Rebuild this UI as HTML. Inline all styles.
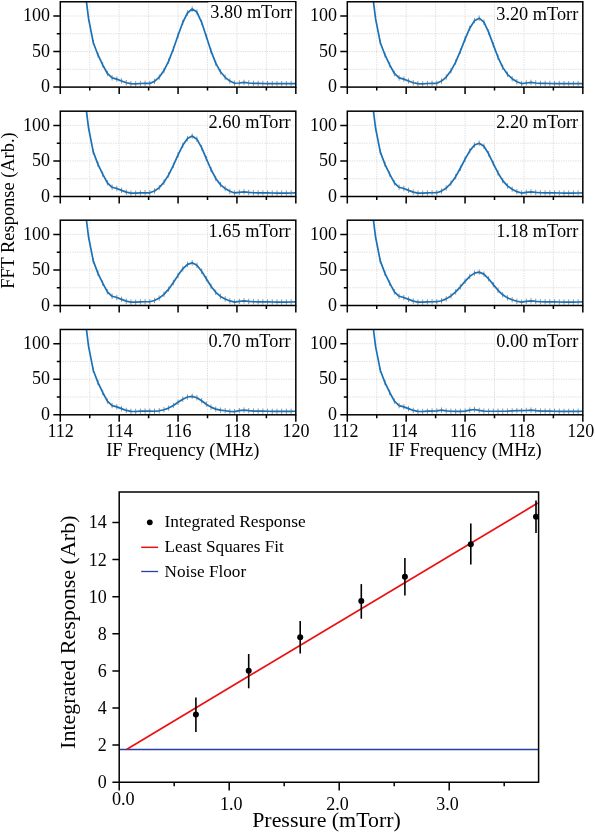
<!DOCTYPE html>
<html><head><meta charset="utf-8"><style>
html,body{margin:0;padding:0;background:#fff;}
body{width:595px;height:832px;overflow:hidden;font-family:"Liberation Serif", serif;}
</style></head><body>
<svg width="595" height="832" viewBox="0 0 595 832" style="display:block;will-change:transform">
<rect width="595" height="832" fill="#fff"/>
<defs>
<clipPath id="cp00"><rect x="60.30" y="1.78" width="235.52" height="85.32"/></clipPath>
<clipPath id="cp01"><rect x="347.30" y="1.78" width="235.52" height="85.32"/></clipPath>
<clipPath id="cp10"><rect x="60.30" y="111.18" width="235.52" height="85.32"/></clipPath>
<clipPath id="cp11"><rect x="347.30" y="111.18" width="235.52" height="85.32"/></clipPath>
<clipPath id="cp20"><rect x="60.30" y="220.18" width="235.52" height="85.32"/></clipPath>
<clipPath id="cp21"><rect x="347.30" y="220.18" width="235.52" height="85.32"/></clipPath>
<clipPath id="cp30"><rect x="60.30" y="329.48" width="235.52" height="85.32"/></clipPath>
<clipPath id="cp31"><rect x="347.30" y="329.48" width="235.52" height="85.32"/></clipPath>
</defs>
<path d="M89.74 1.78V87.10 M119.18 1.78V87.10 M148.62 1.78V87.10 M178.06 1.78V87.10 M207.50 1.78V87.10 M236.94 1.78V87.10 M266.38 1.78V87.10 M60.30 69.32H295.82 M60.30 51.55H295.82 M60.30 33.77H295.82 M60.30 16.00H295.82" stroke="#d2d2d2" stroke-width="0.8" stroke-dasharray="1.2 1.2" fill="none"/>
<g clip-path="url(#cp00)">
<path d="M88.56 15.93V21.33 M93.27 39.78V45.18 M97.98 52.23V57.63 M102.69 62.09V67.49 M107.40 70.78V76.18 M112.11 75.17V80.57 M116.82 76.45V81.85 M121.54 78.24V83.64 M126.25 80.05V85.45 M130.96 81.00V86.40 M135.67 81.09V86.49 M140.38 80.82V86.22 M145.09 80.64V86.04 M149.80 80.72V86.12 M154.51 78.68V84.08 M159.22 74.52V79.92 M163.93 67.89V73.29 M168.64 58.47V63.87 M173.35 46.26V51.66 M178.06 32.63V38.03 M182.77 19.80V25.20 M187.48 10.28V15.68 M192.19 6.24V11.64 M196.90 9.36V14.76 M201.61 19.64V25.04 M206.32 33.89V39.29 M211.03 48.38V53.78 M215.74 60.48V65.88 M220.45 69.09V74.49 M225.16 74.59V79.99 M229.87 78.34V83.74 M234.58 80.55V85.95 M239.30 80.28V85.68 M244.01 79.71V85.11 M248.72 80.28V85.68 M253.43 80.66V86.06 M258.14 80.73V86.13 M262.85 80.79V86.19 M267.56 80.86V86.26 M272.27 80.90V86.30 M276.98 80.95V86.35 M281.69 80.98V86.38 M286.40 80.94V86.34 M291.11 80.89V86.29" stroke="#9a9590" stroke-width="1" fill="none"/>
<path d="M50.88 83.54 L55.59 -453.26 L60.30 -339.50 L65.01 -271.24 L69.72 -203.46 L74.43 -139.00 L79.14 -75.59 L83.85 -19.06 L88.56 18.63 L93.27 42.48 L97.98 54.93 L102.69 64.79 L107.40 73.48 L112.11 77.87 L116.82 79.15 L121.54 80.94 L126.25 82.75 L130.96 83.70 L135.67 83.79 L140.38 83.52 L145.09 83.34 L149.80 83.42 L154.51 81.38 L159.22 77.22 L163.93 70.59 L168.64 61.17 L173.35 48.96 L178.06 35.33 L182.77 22.50 L187.48 12.98 L192.19 8.94 L196.90 12.06 L201.61 22.34 L206.32 36.59 L211.03 51.08 L215.74 63.18 L220.45 71.79 L225.16 77.29 L229.87 81.04 L234.58 83.25 L239.30 82.98 L244.01 82.41 L248.72 82.98 L253.43 83.36 L258.14 83.43 L262.85 83.49 L267.56 83.56 L272.27 83.60 L276.98 83.65 L281.69 83.68 L286.40 83.64 L291.11 83.59 L295.82 83.54" stroke="#1872ba" stroke-width="1.7" fill="none" stroke-linejoin="round"/>
</g>
<rect x="60.30" y="1.78" width="235.52" height="85.32" fill="none" stroke="#000" stroke-width="1.5"/>
<rect x="208.30" y="2.23" width="86.72" height="17.3" fill="#fff"/>
<text x="292.32" y="18.18" font-family='"Liberation Serif", serif' font-size="18.3" text-anchor="end" fill="#000">3.80 mTorr</text>
<path d="M60.30 87.10V94.10 M89.74 87.10V90.60 M119.18 87.10V94.10 M148.62 87.10V90.60 M178.06 87.10V94.10 M207.50 87.10V90.60 M236.94 87.10V94.10 M266.38 87.10V90.60 M295.82 87.10V94.10 M60.30 87.10H53.30 M60.30 69.32H56.80 M60.30 51.55H53.30 M60.30 33.77H56.80 M60.30 16.00H53.30" stroke="#000" stroke-width="1.5" fill="none"/>
<text x="50.10" y="92.30" font-family='"Liberation Serif", serif' font-size="18" text-anchor="end">0</text>
<text x="50.10" y="56.75" font-family='"Liberation Serif", serif' font-size="18" text-anchor="end">50</text>
<text x="50.10" y="21.20" font-family='"Liberation Serif", serif' font-size="18" text-anchor="end">100</text>
<path d="M376.74 1.78V87.10 M406.18 1.78V87.10 M435.62 1.78V87.10 M465.06 1.78V87.10 M494.50 1.78V87.10 M523.94 1.78V87.10 M553.38 1.78V87.10 M347.30 69.32H582.82 M347.30 51.55H582.82 M347.30 33.77H582.82 M347.30 16.00H582.82" stroke="#d2d2d2" stroke-width="0.8" stroke-dasharray="1.2 1.2" fill="none"/>
<g clip-path="url(#cp01)">
<path d="M375.56 15.93V21.33 M380.27 39.78V45.18 M384.98 52.23V57.63 M389.69 62.09V67.49 M394.40 70.78V76.18 M399.11 75.17V80.57 M403.82 76.45V81.85 M408.54 78.24V83.64 M413.25 80.05V85.45 M417.96 81.00V86.40 M422.67 81.09V86.49 M427.38 80.82V86.22 M432.09 80.64V86.04 M436.80 80.58V85.98 M441.51 78.40V83.80 M446.22 74.39V79.79 M450.93 68.12V73.52 M455.64 59.41V64.81 M460.35 48.37V53.77 M465.06 36.37V41.77 M469.77 25.51V30.91 M474.48 17.94V23.34 M479.19 15.45V20.85 M483.90 19.49V24.89 M488.61 29.40V34.80 M493.32 42.15V47.55 M498.03 54.60V60.00 M502.74 64.66V70.06 M507.45 71.64V77.04 M512.16 76.01V81.41 M516.87 79.08V84.48 M521.58 80.87V86.27 M526.30 80.28V85.68 M531.01 79.71V85.11 M535.72 80.28V85.68 M540.43 80.66V86.06 M545.14 80.73V86.13 M549.85 80.79V86.19 M554.56 80.86V86.26 M559.27 80.90V86.30 M563.98 80.95V86.35 M568.69 80.98V86.38 M573.40 80.94V86.34 M578.11 80.89V86.29" stroke="#9a9590" stroke-width="1" fill="none"/>
<path d="M337.88 83.54 L342.59 -453.26 L347.30 -339.50 L352.01 -271.24 L356.72 -203.46 L361.43 -139.00 L366.14 -75.59 L370.85 -19.06 L375.56 18.63 L380.27 42.48 L384.98 54.93 L389.69 64.79 L394.40 73.48 L399.11 77.87 L403.82 79.15 L408.54 80.94 L413.25 82.75 L417.96 83.70 L422.67 83.79 L427.38 83.52 L432.09 83.34 L436.80 83.28 L441.51 81.10 L446.22 77.09 L450.93 70.82 L455.64 62.11 L460.35 51.07 L465.06 39.07 L469.77 28.21 L474.48 20.64 L479.19 18.15 L483.90 22.19 L488.61 32.10 L493.32 44.85 L498.03 57.30 L502.74 67.36 L507.45 74.34 L512.16 78.71 L516.87 81.78 L521.58 83.57 L526.30 82.98 L531.01 82.41 L535.72 82.98 L540.43 83.36 L545.14 83.43 L549.85 83.49 L554.56 83.56 L559.27 83.60 L563.98 83.65 L568.69 83.68 L573.40 83.64 L578.11 83.59 L582.82 83.54" stroke="#1872ba" stroke-width="1.7" fill="none" stroke-linejoin="round"/>
</g>
<rect x="347.30" y="1.78" width="235.52" height="85.32" fill="none" stroke="#000" stroke-width="1.5"/>
<text x="578.27" y="20.18" font-family='"Liberation Serif", serif' font-size="18.3" text-anchor="end" fill="#000">3.20 mTorr</text>
<path d="M347.30 87.10V94.10 M376.74 87.10V90.60 M406.18 87.10V94.10 M435.62 87.10V90.60 M465.06 87.10V94.10 M494.50 87.10V90.60 M523.94 87.10V94.10 M553.38 87.10V90.60 M582.82 87.10V94.10 M347.30 87.10H340.30 M347.30 69.32H343.80 M347.30 51.55H340.30 M347.30 33.77H343.80 M347.30 16.00H340.30" stroke="#000" stroke-width="1.5" fill="none"/>
<text x="337.10" y="92.30" font-family='"Liberation Serif", serif' font-size="18" text-anchor="end">0</text>
<text x="337.10" y="56.75" font-family='"Liberation Serif", serif' font-size="18" text-anchor="end">50</text>
<text x="337.10" y="21.20" font-family='"Liberation Serif", serif' font-size="18" text-anchor="end">100</text>
<path d="M89.74 111.18V196.50 M119.18 111.18V196.50 M148.62 111.18V196.50 M178.06 111.18V196.50 M207.50 111.18V196.50 M236.94 111.18V196.50 M266.38 111.18V196.50 M60.30 178.72H295.82 M60.30 160.95H295.82 M60.30 143.18H295.82 M60.30 125.40H295.82" stroke="#d2d2d2" stroke-width="0.8" stroke-dasharray="1.2 1.2" fill="none"/>
<g clip-path="url(#cp10)">
<path d="M88.56 125.33V130.73 M93.27 149.18V154.58 M97.98 161.63V167.03 M102.69 171.49V176.89 M107.40 180.18V185.58 M112.11 184.57V189.97 M116.82 185.85V191.25 M121.54 187.64V193.04 M126.25 189.45V194.85 M130.96 190.40V195.80 M135.67 190.49V195.89 M140.38 190.22V195.62 M145.09 190.04V195.44 M149.80 190.09V195.49 M154.51 188.29V193.69 M159.22 184.91V190.31 M163.93 179.59V184.99 M168.64 172.17V177.57 M173.35 162.65V168.05 M178.06 152.22V157.62 M182.77 142.65V148.05 M187.48 135.84V141.24 M192.19 133.37V138.76 M196.90 136.50V141.90 M201.61 144.87V150.27 M206.32 155.89V161.29 M211.03 166.79V172.19 M215.74 175.70V181.10 M220.45 181.92V187.32 M225.16 185.83V191.23 M229.87 188.62V194.02 M234.58 190.25V195.65 M239.30 189.68V195.08 M244.01 189.11V194.51 M248.72 189.68V195.08 M253.43 190.06V195.46 M258.14 190.13V195.53 M262.85 190.19V195.59 M267.56 190.26V195.66 M272.27 190.30V195.70 M276.98 190.35V195.75 M281.69 190.38V195.78 M286.40 190.34V195.74 M291.11 190.29V195.69" stroke="#9a9590" stroke-width="1" fill="none"/>
<path d="M50.88 192.94 L55.59 -343.86 L60.30 -230.10 L65.01 -161.84 L69.72 -94.06 L74.43 -29.60 L79.14 33.81 L83.85 90.34 L88.56 128.03 L93.27 151.88 L97.98 164.33 L102.69 174.19 L107.40 182.88 L112.11 187.27 L116.82 188.55 L121.54 190.34 L126.25 192.15 L130.96 193.10 L135.67 193.19 L140.38 192.92 L145.09 192.74 L149.80 192.79 L154.51 190.99 L159.22 187.61 L163.93 182.29 L168.64 174.87 L173.35 165.35 L178.06 154.92 L182.77 145.35 L187.48 138.54 L192.19 136.06 L196.90 139.20 L201.61 147.57 L206.32 158.59 L211.03 169.49 L215.74 178.40 L220.45 184.62 L225.16 188.53 L229.87 191.32 L234.58 192.95 L239.30 192.38 L244.01 191.81 L248.72 192.38 L253.43 192.76 L258.14 192.83 L262.85 192.89 L267.56 192.96 L272.27 193.00 L276.98 193.05 L281.69 193.08 L286.40 193.04 L291.11 192.99 L295.82 192.94" stroke="#1872ba" stroke-width="1.7" fill="none" stroke-linejoin="round"/>
</g>
<rect x="60.30" y="111.18" width="235.52" height="85.32" fill="none" stroke="#000" stroke-width="1.5"/>
<text x="290.62" y="128.08" font-family='"Liberation Serif", serif' font-size="18.3" text-anchor="end" fill="#000">2.60 mTorr</text>
<path d="M60.30 196.50V203.50 M89.74 196.50V200.00 M119.18 196.50V203.50 M148.62 196.50V200.00 M178.06 196.50V203.50 M207.50 196.50V200.00 M236.94 196.50V203.50 M266.38 196.50V200.00 M295.82 196.50V203.50 M60.30 196.50H53.30 M60.30 178.72H56.80 M60.30 160.95H53.30 M60.30 143.18H56.80 M60.30 125.40H53.30" stroke="#000" stroke-width="1.5" fill="none"/>
<text x="50.10" y="201.70" font-family='"Liberation Serif", serif' font-size="18" text-anchor="end">0</text>
<text x="50.10" y="166.15" font-family='"Liberation Serif", serif' font-size="18" text-anchor="end">50</text>
<text x="50.10" y="130.60" font-family='"Liberation Serif", serif' font-size="18" text-anchor="end">100</text>
<path d="M376.74 111.18V196.50 M406.18 111.18V196.50 M435.62 111.18V196.50 M465.06 111.18V196.50 M494.50 111.18V196.50 M523.94 111.18V196.50 M553.38 111.18V196.50 M347.30 178.72H582.82 M347.30 160.95H582.82 M347.30 143.18H582.82 M347.30 125.40H582.82" stroke="#d2d2d2" stroke-width="0.8" stroke-dasharray="1.2 1.2" fill="none"/>
<g clip-path="url(#cp11)">
<path d="M375.56 125.33V130.73 M380.27 149.18V154.58 M384.98 161.63V167.03 M389.69 171.49V176.89 M394.40 180.18V185.58 M399.11 184.57V189.97 M403.82 185.85V191.25 M408.54 187.64V193.04 M413.25 189.45V194.85 M417.96 190.40V195.80 M422.67 190.49V195.89 M427.38 190.22V195.62 M432.09 190.04V195.44 M436.80 190.02V195.42 M441.51 188.39V193.79 M446.22 185.34V190.74 M450.93 180.57V185.97 M455.64 173.97V179.37 M460.35 165.56V170.96 M465.06 156.41V161.81 M469.77 148.14V153.54 M474.48 142.38V147.78 M479.19 140.49V145.89 M483.90 143.56V148.96 M488.61 151.10V156.50 M493.32 160.81V166.21 M498.03 170.27V175.67 M502.74 177.93V183.33 M507.45 183.22V188.62 M512.16 186.52V191.92 M516.87 188.94V194.34 M521.58 190.35V195.75 M526.30 189.68V195.08 M531.01 189.11V194.51 M535.72 189.68V195.08 M540.43 190.06V195.46 M545.14 190.13V195.53 M549.85 190.19V195.59 M554.56 190.26V195.66 M559.27 190.30V195.70 M563.98 190.35V195.75 M568.69 190.38V195.78 M573.40 190.34V195.74 M578.11 190.29V195.69" stroke="#9a9590" stroke-width="1" fill="none"/>
<path d="M337.88 192.94 L342.59 -343.86 L347.30 -230.10 L352.01 -161.84 L356.72 -94.06 L361.43 -29.60 L366.14 33.81 L370.85 90.34 L375.56 128.03 L380.27 151.88 L384.98 164.33 L389.69 174.19 L394.40 182.88 L399.11 187.27 L403.82 188.55 L408.54 190.34 L413.25 192.15 L417.96 193.10 L422.67 193.19 L427.38 192.92 L432.09 192.74 L436.80 192.72 L441.51 191.09 L446.22 188.04 L450.93 183.27 L455.64 176.67 L460.35 168.26 L465.06 159.11 L469.77 150.84 L474.48 145.08 L479.19 143.19 L483.90 146.26 L488.61 153.80 L493.32 163.51 L498.03 172.97 L502.74 180.63 L507.45 185.92 L512.16 189.22 L516.87 191.64 L521.58 193.05 L526.30 192.38 L531.01 191.81 L535.72 192.38 L540.43 192.76 L545.14 192.83 L549.85 192.89 L554.56 192.96 L559.27 193.00 L563.98 193.05 L568.69 193.08 L573.40 193.04 L578.11 192.99 L582.82 192.94" stroke="#1872ba" stroke-width="1.7" fill="none" stroke-linejoin="round"/>
</g>
<rect x="347.30" y="111.18" width="235.52" height="85.32" fill="none" stroke="#000" stroke-width="1.5"/>
<text x="578.22" y="128.08" font-family='"Liberation Serif", serif' font-size="18.3" text-anchor="end" fill="#000">2.20 mTorr</text>
<path d="M347.30 196.50V203.50 M376.74 196.50V200.00 M406.18 196.50V203.50 M435.62 196.50V200.00 M465.06 196.50V203.50 M494.50 196.50V200.00 M523.94 196.50V203.50 M553.38 196.50V200.00 M582.82 196.50V203.50 M347.30 196.50H340.30 M347.30 178.72H343.80 M347.30 160.95H340.30 M347.30 143.18H343.80 M347.30 125.40H340.30" stroke="#000" stroke-width="1.5" fill="none"/>
<text x="337.10" y="201.70" font-family='"Liberation Serif", serif' font-size="18" text-anchor="end">0</text>
<text x="337.10" y="166.15" font-family='"Liberation Serif", serif' font-size="18" text-anchor="end">50</text>
<text x="337.10" y="130.60" font-family='"Liberation Serif", serif' font-size="18" text-anchor="end">100</text>
<path d="M89.74 220.18V305.50 M119.18 220.18V305.50 M148.62 220.18V305.50 M178.06 220.18V305.50 M207.50 220.18V305.50 M236.94 220.18V305.50 M266.38 220.18V305.50 M60.30 287.73H295.82 M60.30 269.95H295.82 M60.30 252.18H295.82 M60.30 234.40H295.82" stroke="#d2d2d2" stroke-width="0.8" stroke-dasharray="1.2 1.2" fill="none"/>
<g clip-path="url(#cp20)">
<path d="M88.56 234.33V239.73 M93.27 258.18V263.58 M97.98 270.63V276.03 M102.69 280.49V285.89 M107.40 289.18V294.58 M112.11 293.57V298.97 M116.82 294.85V300.25 M121.54 296.64V302.04 M126.25 298.45V303.85 M130.96 299.40V304.80 M135.67 299.49V304.89 M140.38 299.22V304.62 M145.09 299.04V304.44 M149.80 299.04V304.44 M154.51 297.79V303.19 M159.22 295.39V300.79 M163.93 291.64V297.04 M168.64 286.48V291.88 M173.35 279.86V285.26 M178.06 272.66V278.06 M182.77 266.16V271.56 M187.48 261.64V267.04 M192.19 260.15V265.55 M196.90 262.57V267.97 M201.61 268.49V273.89 M206.32 276.11V281.51 M211.03 283.55V288.95 M215.74 289.57V294.97 M220.45 293.70V299.10 M225.16 296.27V301.67 M229.87 298.25V303.65 M234.58 299.41V304.81 M239.30 298.68V304.08 M244.01 298.11V303.51 M248.72 298.68V304.08 M253.43 299.06V304.46 M258.14 299.13V304.53 M262.85 299.19V304.59 M267.56 299.26V304.66 M272.27 299.30V304.70 M276.98 299.35V304.75 M281.69 299.38V304.78 M286.40 299.34V304.74 M291.11 299.29V304.69" stroke="#9a9590" stroke-width="1" fill="none"/>
<path d="M50.88 301.94 L55.59 -234.86 L60.30 -121.10 L65.01 -52.84 L69.72 14.94 L74.43 79.40 L79.14 142.81 L83.85 199.34 L88.56 237.03 L93.27 260.88 L97.98 273.33 L102.69 283.19 L107.40 291.88 L112.11 296.27 L116.82 297.55 L121.54 299.34 L126.25 301.15 L130.96 302.10 L135.67 302.19 L140.38 301.92 L145.09 301.74 L149.80 301.74 L154.51 300.49 L159.22 298.09 L163.93 294.34 L168.64 289.18 L173.35 282.56 L178.06 275.36 L182.77 268.86 L187.48 264.34 L192.19 262.85 L196.90 265.27 L201.61 271.19 L206.32 278.81 L211.03 286.25 L215.74 292.27 L220.45 296.40 L225.16 298.97 L229.87 300.95 L234.58 302.11 L239.30 301.38 L244.01 300.81 L248.72 301.38 L253.43 301.76 L258.14 301.83 L262.85 301.89 L267.56 301.96 L272.27 302.00 L276.98 302.05 L281.69 302.08 L286.40 302.04 L291.11 301.99 L295.82 301.94" stroke="#1872ba" stroke-width="1.7" fill="none" stroke-linejoin="round"/>
</g>
<rect x="60.30" y="220.18" width="235.52" height="85.32" fill="none" stroke="#000" stroke-width="1.5"/>
<text x="290.57" y="237.28" font-family='"Liberation Serif", serif' font-size="18.3" text-anchor="end" fill="#000">1.65 mTorr</text>
<path d="M60.30 305.50V312.50 M89.74 305.50V309.00 M119.18 305.50V312.50 M148.62 305.50V309.00 M178.06 305.50V312.50 M207.50 305.50V309.00 M236.94 305.50V312.50 M266.38 305.50V309.00 M295.82 305.50V312.50 M60.30 305.50H53.30 M60.30 287.73H56.80 M60.30 269.95H53.30 M60.30 252.18H56.80 M60.30 234.40H53.30" stroke="#000" stroke-width="1.5" fill="none"/>
<text x="50.10" y="310.70" font-family='"Liberation Serif", serif' font-size="18" text-anchor="end">0</text>
<text x="50.10" y="275.15" font-family='"Liberation Serif", serif' font-size="18" text-anchor="end">50</text>
<text x="50.10" y="239.60" font-family='"Liberation Serif", serif' font-size="18" text-anchor="end">100</text>
<path d="M376.74 220.18V305.50 M406.18 220.18V305.50 M435.62 220.18V305.50 M465.06 220.18V305.50 M494.50 220.18V305.50 M523.94 220.18V305.50 M553.38 220.18V305.50 M347.30 287.73H582.82 M347.30 269.95H582.82 M347.30 252.18H582.82 M347.30 234.40H582.82" stroke="#d2d2d2" stroke-width="0.8" stroke-dasharray="1.2 1.2" fill="none"/>
<g clip-path="url(#cp21)">
<path d="M375.56 234.33V239.73 M380.27 258.18V263.58 M384.98 270.63V276.03 M389.69 280.49V285.89 M394.40 289.18V294.58 M399.11 293.57V298.97 M403.82 294.85V300.25 M408.54 296.64V302.04 M413.25 298.45V303.85 M417.96 299.40V304.80 M422.67 299.49V304.89 M427.38 299.22V304.62 M432.09 299.04V304.44 M436.80 299.01V304.41 M441.51 298.04V303.44 M446.22 296.15V301.55 M450.93 293.23V298.63 M455.64 289.24V294.64 M460.35 284.13V289.53 M465.06 278.61V284.01 M469.77 273.71V279.11 M474.48 270.38V275.78 M479.19 269.41V274.81 M483.90 271.45V276.85 M488.61 276.10V281.50 M493.32 281.95V287.35 M498.03 287.59V292.99 M502.74 292.10V297.50 M507.45 295.15V300.55 M512.16 297.02V302.42 M516.87 298.58V303.98 M521.58 299.49V304.89 M526.30 298.68V304.08 M531.01 298.11V303.51 M535.72 298.68V304.08 M540.43 299.06V304.46 M545.14 299.13V304.53 M549.85 299.19V304.59 M554.56 299.26V304.66 M559.27 299.30V304.70 M563.98 299.35V304.75 M568.69 299.38V304.78 M573.40 299.34V304.74 M578.11 299.29V304.69" stroke="#9a9590" stroke-width="1" fill="none"/>
<path d="M337.88 301.94 L342.59 -234.86 L347.30 -121.10 L352.01 -52.84 L356.72 14.94 L361.43 79.40 L366.14 142.81 L370.85 199.34 L375.56 237.03 L380.27 260.88 L384.98 273.33 L389.69 283.19 L394.40 291.88 L399.11 296.27 L403.82 297.55 L408.54 299.34 L413.25 301.15 L417.96 302.10 L422.67 302.19 L427.38 301.92 L432.09 301.74 L436.80 301.71 L441.51 300.74 L446.22 298.85 L450.93 295.93 L455.64 291.94 L460.35 286.83 L465.06 281.31 L469.77 276.41 L474.48 273.08 L479.19 272.11 L483.90 274.15 L488.61 278.80 L493.32 284.65 L498.03 290.29 L502.74 294.80 L507.45 297.85 L512.16 299.72 L516.87 301.28 L521.58 302.19 L526.30 301.38 L531.01 300.81 L535.72 301.38 L540.43 301.76 L545.14 301.83 L549.85 301.89 L554.56 301.96 L559.27 302.00 L563.98 302.05 L568.69 302.08 L573.40 302.04 L578.11 301.99 L582.82 301.94" stroke="#1872ba" stroke-width="1.7" fill="none" stroke-linejoin="round"/>
</g>
<rect x="347.30" y="220.18" width="235.52" height="85.32" fill="none" stroke="#000" stroke-width="1.5"/>
<text x="578.27" y="237.08" font-family='"Liberation Serif", serif' font-size="18.3" text-anchor="end" fill="#000">1.18 mTorr</text>
<path d="M347.30 305.50V312.50 M376.74 305.50V309.00 M406.18 305.50V312.50 M435.62 305.50V309.00 M465.06 305.50V312.50 M494.50 305.50V309.00 M523.94 305.50V312.50 M553.38 305.50V309.00 M582.82 305.50V312.50 M347.30 305.50H340.30 M347.30 287.73H343.80 M347.30 269.95H340.30 M347.30 252.18H343.80 M347.30 234.40H340.30" stroke="#000" stroke-width="1.5" fill="none"/>
<text x="337.10" y="310.70" font-family='"Liberation Serif", serif' font-size="18" text-anchor="end">0</text>
<text x="337.10" y="275.15" font-family='"Liberation Serif", serif' font-size="18" text-anchor="end">50</text>
<text x="337.10" y="239.60" font-family='"Liberation Serif", serif' font-size="18" text-anchor="end">100</text>
<path d="M89.74 329.48V414.80 M119.18 329.48V414.80 M148.62 329.48V414.80 M178.06 329.48V414.80 M207.50 329.48V414.80 M236.94 329.48V414.80 M266.38 329.48V414.80 M60.30 397.03H295.82 M60.30 379.25H295.82 M60.30 361.48H295.82 M60.30 343.70H295.82" stroke="#d2d2d2" stroke-width="0.8" stroke-dasharray="1.2 1.2" fill="none"/>
<g clip-path="url(#cp30)">
<path d="M88.56 343.63V349.03 M93.27 367.48V372.88 M97.98 379.93V385.33 M102.69 389.79V395.19 M107.40 398.48V403.88 M112.11 402.87V408.27 M116.82 404.15V409.55 M121.54 405.94V411.34 M126.25 407.75V413.15 M130.96 408.70V414.10 M135.67 408.79V414.19 M140.38 408.52V413.92 M145.09 408.34V413.74 M149.80 408.42V413.82 M154.51 408.55V413.94 M159.22 408.09V413.49 M163.93 407.06V412.46 M168.64 405.40V410.80 M173.35 402.80V408.20 M178.06 399.61V405.01 M182.77 396.53V401.93 M187.48 394.30V399.70 M192.19 393.63V399.03 M196.90 395.03V400.43 M201.61 398.04V403.44 M206.32 401.50V406.90 M211.03 404.43V409.83 M215.74 406.42V411.82 M220.45 407.50V412.90 M225.16 408.03V413.43 M229.87 408.71V414.11 M234.58 408.92V414.32 M239.30 407.98V413.38 M244.01 407.41V412.81 M248.72 407.98V413.38 M253.43 408.36V413.76 M258.14 408.43V413.83 M262.85 408.49V413.89 M267.56 408.56V413.96 M272.27 408.60V414.00 M276.98 408.65V414.05 M281.69 408.68V414.08 M286.40 408.64V414.04 M291.11 408.59V413.99" stroke="#9a9590" stroke-width="1" fill="none"/>
<path d="M50.88 411.25 L55.59 -125.56 L60.30 -11.80 L65.01 56.46 L69.72 124.24 L74.43 188.70 L79.14 252.11 L83.85 308.64 L88.56 346.33 L93.27 370.18 L97.98 382.63 L102.69 392.49 L107.40 401.18 L112.11 405.57 L116.82 406.85 L121.54 408.64 L126.25 410.45 L130.96 411.40 L135.67 411.49 L140.38 411.22 L145.09 411.04 L149.80 411.12 L154.51 411.25 L159.22 410.79 L163.93 409.76 L168.64 408.10 L173.35 405.50 L178.06 402.31 L182.77 399.23 L187.48 397.00 L192.19 396.33 L196.90 397.73 L201.61 400.74 L206.32 404.20 L211.03 407.13 L215.74 409.12 L220.45 410.20 L225.16 410.73 L229.87 411.41 L234.58 411.62 L239.30 410.68 L244.01 410.11 L248.72 410.68 L253.43 411.06 L258.14 411.13 L262.85 411.19 L267.56 411.26 L272.27 411.30 L276.98 411.35 L281.69 411.38 L286.40 411.34 L291.11 411.29 L295.82 411.25" stroke="#1872ba" stroke-width="1.7" fill="none" stroke-linejoin="round"/>
</g>
<rect x="60.30" y="329.48" width="235.52" height="85.32" fill="none" stroke="#000" stroke-width="1.5"/>
<text x="290.57" y="347.28" font-family='"Liberation Serif", serif' font-size="18.3" text-anchor="end" fill="#000">0.70 mTorr</text>
<path d="M60.30 414.80V421.80 M89.74 414.80V418.30 M119.18 414.80V421.80 M148.62 414.80V418.30 M178.06 414.80V421.80 M207.50 414.80V418.30 M236.94 414.80V421.80 M266.38 414.80V418.30 M295.82 414.80V421.80 M60.30 414.80H53.30 M60.30 397.03H56.80 M60.30 379.25H53.30 M60.30 361.48H56.80 M60.30 343.70H53.30" stroke="#000" stroke-width="1.5" fill="none"/>
<text x="50.10" y="420.00" font-family='"Liberation Serif", serif' font-size="18" text-anchor="end">0</text>
<text x="50.10" y="384.45" font-family='"Liberation Serif", serif' font-size="18" text-anchor="end">50</text>
<text x="50.10" y="348.90" font-family='"Liberation Serif", serif' font-size="18" text-anchor="end">100</text>
<text x="60.60" y="437.30" font-family='"Liberation Serif", serif' font-size="18" text-anchor="middle">112</text>
<text x="119.48" y="437.30" font-family='"Liberation Serif", serif' font-size="18" text-anchor="middle">114</text>
<text x="178.36" y="437.30" font-family='"Liberation Serif", serif' font-size="18" text-anchor="middle">116</text>
<text x="237.24" y="437.30" font-family='"Liberation Serif", serif' font-size="18" text-anchor="middle">118</text>
<text x="296.12" y="437.30" font-family='"Liberation Serif", serif' font-size="18" text-anchor="middle">120</text>
<path d="M376.74 329.48V414.80 M406.18 329.48V414.80 M435.62 329.48V414.80 M465.06 329.48V414.80 M494.50 329.48V414.80 M523.94 329.48V414.80 M553.38 329.48V414.80 M347.30 397.03H582.82 M347.30 379.25H582.82 M347.30 361.48H582.82 M347.30 343.70H582.82" stroke="#d2d2d2" stroke-width="0.8" stroke-dasharray="1.2 1.2" fill="none"/>
<g clip-path="url(#cp31)">
<path d="M375.56 343.63V349.03 M380.27 367.48V372.88 M384.98 379.93V385.33 M389.69 389.79V395.19 M394.40 398.48V403.88 M399.11 402.87V408.27 M403.82 404.15V409.55 M408.54 405.94V411.34 M413.25 407.75V413.15 M417.96 408.70V414.10 M422.67 408.79V414.19 M427.38 408.52V413.92 M432.09 408.33V413.73 M436.80 408.12V413.52 M441.51 407.48V412.88 M446.22 408.25V413.65 M450.93 408.55V413.95 M455.64 408.67V414.07 M460.35 408.61V414.01 M465.06 408.36V413.76 M469.77 407.46V412.86 M474.48 406.79V412.19 M479.19 407.75V413.15 M483.90 408.45V413.85 M488.61 408.54V413.94 M493.32 408.54V413.94 M498.03 408.54V413.94 M502.74 408.54V413.94 M507.45 408.44V413.84 M512.16 408.20V413.60 M516.87 407.90V413.30 M521.58 408.02V413.42 M526.30 407.79V413.19 M531.01 407.40V412.80 M535.72 407.98V413.38 M540.43 408.36V413.76 M545.14 408.43V413.83 M549.85 408.49V413.89 M554.56 408.56V413.96 M559.27 408.60V414.00 M563.98 408.65V414.05 M568.69 408.68V414.08 M573.40 408.64V414.04 M578.11 408.59V413.99" stroke="#9a9590" stroke-width="1" fill="none"/>
<path d="M337.88 411.25 L342.59 -125.56 L347.30 -11.80 L352.01 56.46 L356.72 124.24 L361.43 188.70 L366.14 252.11 L370.85 308.64 L375.56 346.33 L380.27 370.18 L384.98 382.63 L389.69 392.49 L394.40 401.18 L399.11 405.57 L403.82 406.85 L408.54 408.64 L413.25 410.45 L417.96 411.40 L422.67 411.49 L427.38 411.22 L432.09 411.03 L436.80 410.82 L441.51 410.18 L446.22 410.95 L450.93 411.25 L455.64 411.37 L460.35 411.31 L465.06 411.06 L469.77 410.16 L474.48 409.49 L479.19 410.45 L483.90 411.15 L488.61 411.24 L493.32 411.24 L498.03 411.24 L502.74 411.24 L507.45 411.14 L512.16 410.90 L516.87 410.60 L521.58 410.72 L526.30 410.49 L531.01 410.10 L535.72 410.68 L540.43 411.06 L545.14 411.13 L549.85 411.19 L554.56 411.26 L559.27 411.30 L563.98 411.35 L568.69 411.38 L573.40 411.34 L578.11 411.29 L582.82 411.25" stroke="#1872ba" stroke-width="1.7" fill="none" stroke-linejoin="round"/>
</g>
<rect x="347.30" y="329.48" width="235.52" height="85.32" fill="none" stroke="#000" stroke-width="1.5"/>
<text x="578.27" y="346.78" font-family='"Liberation Serif", serif' font-size="18.3" text-anchor="end" fill="#000">0.00 mTorr</text>
<path d="M347.30 414.80V421.80 M376.74 414.80V418.30 M406.18 414.80V421.80 M435.62 414.80V418.30 M465.06 414.80V421.80 M494.50 414.80V418.30 M523.94 414.80V421.80 M553.38 414.80V418.30 M582.82 414.80V421.80 M347.30 414.80H340.30 M347.30 397.03H343.80 M347.30 379.25H340.30 M347.30 361.48H343.80 M347.30 343.70H340.30" stroke="#000" stroke-width="1.5" fill="none"/>
<text x="337.10" y="420.00" font-family='"Liberation Serif", serif' font-size="18" text-anchor="end">0</text>
<text x="337.10" y="384.45" font-family='"Liberation Serif", serif' font-size="18" text-anchor="end">50</text>
<text x="337.10" y="348.90" font-family='"Liberation Serif", serif' font-size="18" text-anchor="end">100</text>
<text x="345.30" y="437.30" font-family='"Liberation Serif", serif' font-size="18" text-anchor="middle">112</text>
<text x="404.18" y="437.30" font-family='"Liberation Serif", serif' font-size="18" text-anchor="middle">114</text>
<text x="463.06" y="437.30" font-family='"Liberation Serif", serif' font-size="18" text-anchor="middle">116</text>
<text x="521.94" y="437.30" font-family='"Liberation Serif", serif' font-size="18" text-anchor="middle">118</text>
<text x="580.82" y="437.30" font-family='"Liberation Serif", serif' font-size="18" text-anchor="middle">120</text>
<text x="182.8" y="456.2" font-family='"Liberation Serif", serif' font-size="18.4" text-anchor="middle">IF Frequency (MHz)</text>
<text x="465.1" y="456.2" font-family='"Liberation Serif", serif' font-size="18.4" text-anchor="middle">IF Frequency (MHz)</text>
<text transform="translate(13.6 210.6) rotate(-90)" font-family='"Liberation Serif", serif' font-size="18.4" text-anchor="middle">FFT Response (Arb.)</text>
<path d="M119.20 749.5H538.60" stroke="#2440a0" stroke-width="1.3"/>
<path d="M126.9 749.2L537.7 503.1" stroke="#ec1010" stroke-width="1.7"/>
<path d="M195.90 697.50V732.10" stroke="#000" stroke-width="1.6"/>
<circle cx="195.90" cy="714.60" r="3.0" fill="#000"/>
<path d="M248.70 654.00V688.30" stroke="#000" stroke-width="1.6"/>
<circle cx="248.70" cy="670.80" r="3.0" fill="#000"/>
<path d="M300.20 621.10V653.40" stroke="#000" stroke-width="1.6"/>
<circle cx="300.20" cy="637.20" r="3.0" fill="#000"/>
<path d="M361.30 584.10V618.70" stroke="#000" stroke-width="1.6"/>
<circle cx="361.30" cy="600.90" r="3.0" fill="#000"/>
<path d="M404.90 558.00V595.40" stroke="#000" stroke-width="1.6"/>
<circle cx="404.90" cy="576.70" r="3.0" fill="#000"/>
<path d="M470.80 523.60V564.60" stroke="#000" stroke-width="1.6"/>
<circle cx="470.80" cy="544.20" r="3.0" fill="#000"/>
<path d="M536.00 500.60V533.10" stroke="#000" stroke-width="1.6"/>
<circle cx="536.00" cy="516.70" r="3.0" fill="#000"/>
<path d="M119.20 782.20V492.10H538.60V782.20Z" fill="none" stroke="#000" stroke-width="1.5"/>
<path d="M119.20 782.20H112.40 M119.20 745.10H112.40 M119.20 708.00H112.40 M119.20 670.90H112.40 M119.20 633.80H112.40 M119.20 596.70H112.40 M119.20 559.60H112.40 M119.20 522.50H112.40 M119.20 782.20V790.50 M174.20 782.20V786.20 M229.20 782.20V790.50 M284.20 782.20V786.20 M339.20 782.20V790.50 M394.20 782.20V786.20 M449.20 782.20V790.50 M504.20 782.20V786.20" stroke="#000" stroke-width="1.5" fill="none"/>
<text x="106.8" y="788.10" font-family='"Liberation Serif", serif' font-size="18" text-anchor="end">0</text>
<text x="106.8" y="751.00" font-family='"Liberation Serif", serif' font-size="18" text-anchor="end">2</text>
<text x="106.8" y="713.90" font-family='"Liberation Serif", serif' font-size="18" text-anchor="end">4</text>
<text x="106.8" y="676.80" font-family='"Liberation Serif", serif' font-size="18" text-anchor="end">6</text>
<text x="106.8" y="639.70" font-family='"Liberation Serif", serif' font-size="18" text-anchor="end">8</text>
<text x="106.8" y="602.60" font-family='"Liberation Serif", serif' font-size="18" text-anchor="end">10</text>
<text x="106.8" y="565.50" font-family='"Liberation Serif", serif' font-size="18" text-anchor="end">12</text>
<text x="106.8" y="528.40" font-family='"Liberation Serif", serif' font-size="18" text-anchor="end">14</text>
<text x="123.3" y="804.7" font-family='"Liberation Serif", serif' font-size="18.2" text-anchor="middle">0.0</text>
<text x="231.30" y="809.5" font-family='"Liberation Serif", serif' font-size="18" text-anchor="middle">1.0</text>
<text x="337.40" y="809.5" font-family='"Liberation Serif", serif' font-size="18" text-anchor="middle">2.0</text>
<text x="447.60" y="809.5" font-family='"Liberation Serif", serif' font-size="18" text-anchor="middle">3.0</text>
<circle cx="149.8" cy="522.3" r="2.9" fill="#000"/>
<path d="M141.2 547.3H158.1" stroke="#ec1010" stroke-width="1.5"/>
<path d="M141.2 571.5H158.1" stroke="#2440a0" stroke-width="1.3"/>
<text x="164.5" y="527.3" font-family='"Liberation Serif", serif' font-size="17.35">Integrated Response</text>
<text x="164.5" y="551.9" font-family='"Liberation Serif", serif' font-size="17.2">Least Squares Fit</text>
<text x="164.5" y="577.4" font-family='"Liberation Serif", serif' font-size="17.2">Noise Floor</text>
<text x="326.5" y="826.6" font-family='"Liberation Serif", serif' font-size="21.9" text-anchor="middle">Pressure (mTorr)</text>
<text transform="translate(74.8 632.2) rotate(-90)" font-family='"Liberation Serif", serif' font-size="22" text-anchor="middle">Integrated Response (Arb)</text>
</svg>
</body></html>
